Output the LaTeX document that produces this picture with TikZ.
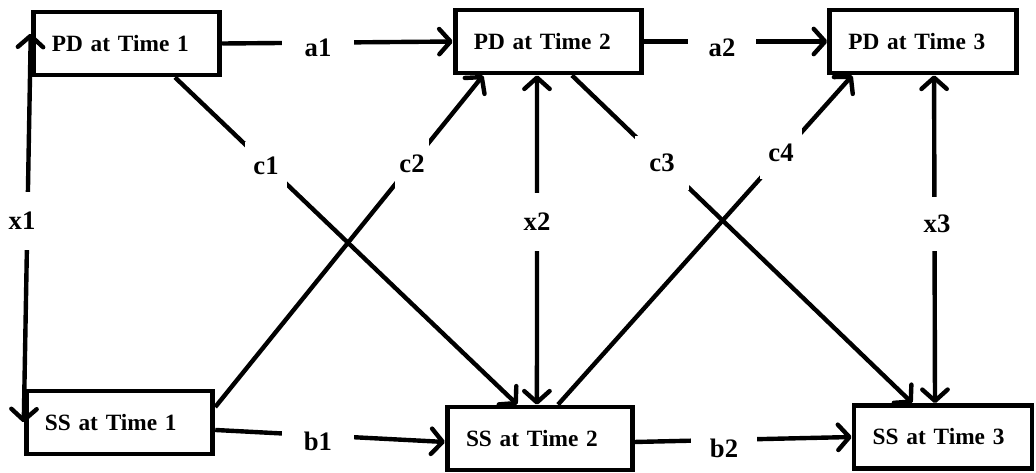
\documentclass[tikz,border=0pt]{standalone}
\usepackage{fontspec}
\setmainfont{Liberation Serif}
\usetikzlibrary{arrows.meta}
\begin{document}
\begin{tikzpicture}[x=0.75pt,y=-0.75pt,
  box/.style={draw,line width=3.6pt,inner xsep=14pt,inner ysep=0pt,minimum height=47.25pt,text width=#1,align=left,font=\fontsize{17.5}{20}\selectfont\bfseries},
  box/.default=112pt,
  conn/.style={line width=3.3pt},
  tip/.tip={Straight Barb[length=8.5pt,width=19pt,round]},
  arr/.style={conn,-tip},
  barr/.style={conn,tip-tip},
  lbl/.style={fill=white,inner sep=0pt,font=\fontsize{20}{23}\selectfont\bfseries}]
\useasboundingbox (0,0) rectangle (1036,472);

% boxes
\node[box] (PD1) at (126.5,43.5) {PD at Time 1};
\node[box] (PD2) at (548.5,41.5) {PD at Time 2};
\node[box] (PD3) at (923,41.5) {PD at Time 3};
\node[box] (SS1) at (119.5,422.5) {SS at Time 1};
\node[box=111pt] (SS2) at (540,438.5) {SS at Time 2};
\node[box=105.5pt] (SS3) at (943,437) {SS at Time 3};

% connectors
\draw[barr] (SS1.west) -- ([yshift=7.5pt]PD1.west);
\draw[arr] (PD1.east) -- (PD2.west);
\draw[arr] (PD2.east) -- (PD3.west);
\draw[arr] ([yshift=-5.6pt]SS1.east) -- ([yshift=-2.6pt]SS2.west);
\draw[arr] ([yshift=-2.6pt]SS2.east) -- (SS3.west);
\draw[arr] ([xshift=36.4pt]PD1.south) -- ([xshift=-17pt]SS2.north);
\draw[arr] ([yshift=11.6pt]SS1.east) -- ([xshift=-49pt]PD2.south);
\draw[barr] ([xshift=-8.6pt]PD2.south) -- ([xshift=-2.3pt]SS2.north);
\draw[arr] ([xshift=17.6pt]PD2.south) -- ([xshift=-23pt]SS3.north);
\draw[arr] ([xshift=13.5pt]SS2.north) -- ([xshift=-53pt]PD3.south);
\draw[barr] ([xshift=8.3pt]PD3.south) -- ([xshift=-6pt]SS3.north);

% labels
\node[lbl,minimum width=54pt,minimum height=22.5pt] (la1) at (318,48) {a1};
\node[lbl,minimum width=51pt,minimum height=22.5pt] (la2) at (722,48) {a2};
\node[lbl,minimum width=54pt,minimum height=22.5pt] (lb1) at (318,441) {b1};
\node[lbl,minimum width=49.5pt,minimum height=22.5pt] (lb2) at (724,448) {b2};
\node[lbl,minimum width=22.5pt,minimum height=43.5pt] (lx1) at (22,221) {x1};
\node[lbl,minimum width=22.5pt,minimum height=44pt] (lx2) at (537,222) {x2};
\node[lbl,minimum width=22.5pt,minimum height=40pt] (lx3) at (937,224) {x3};
\node[lbl,minimum width=32pt,minimum height=36pt] (lc1) at (266,166) {c1};
\node[lbl,minimum width=26pt,minimum height=39pt] (lc2) at (412,164) {c2};
\node[lbl,minimum width=41pt,minimum height=40pt] (lc3) at (662,163) {c3};
\node[lbl,minimum width=32pt,minimum height=39pt] (lc4) at (781,153) {c4};
\end{tikzpicture}
\end{document}
